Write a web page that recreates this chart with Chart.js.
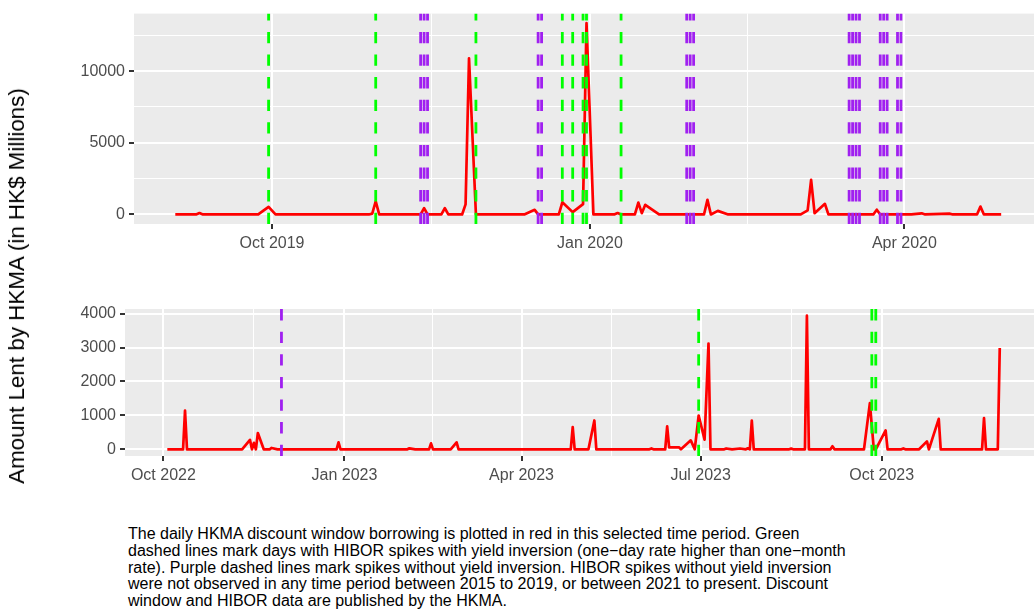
<!DOCTYPE html>
<html>
<head>
<meta charset="utf-8">
<script src="https://cdn.jsdelivr.net/npm/chart.js@4"></script>
<style>
  body { margin: 0; background: #fff; width: 1034px; height: 614px; overflow: hidden; position: relative; font-family: 'Liberation Sans', Arial, sans-serif; }
  canvas { position: absolute; left: 0; }
  #ytitle { position: absolute; left: 17px; top: 286px; transform: translate(-50%, -50%) rotate(-90deg); white-space: nowrap; font-size: 22.4px; color: #000; }
  #caption { position: absolute; left: 128px; top: 526px; font-size: 16px; line-height: 16.8px; color: #000; width: 900px; }
</style>
</head>
<body>
<canvas id="top" width="1034" height="262" style="top:0"></canvas>
<canvas id="bottom" width="1034" height="200" style="top:290px"></canvas>
<div id="ytitle">Amount Lent by HKMA (in HK$ Millions)</div>
<div id="caption">The daily HKMA discount window borrowing is plotted in red in this selected time period. Green<br>dashed lines mark days with HIBOR spikes with yield inversion (one−day rate higher than one−month<br>rate). Purple dashed lines mark spikes without yield inversion. HIBOR spikes without yield inversion<br>were not observed in any time period between 2015 to 2019, or between 2021 to present. Discount<br>window and HIBOR data are published by the HKMA.</div>
<script>
// 2019-20 window
var topDates = ['2019-09-03','2019-09-09','2019-09-10','2019-09-11','2019-09-27','2019-09-30','2019-10-02',
  '2019-10-29','2019-10-30','2019-10-31','2019-11-01','2019-11-13','2019-11-14','2019-11-15','2019-11-19',
  '2019-11-20','2019-11-21','2019-11-25','2019-11-26','2019-11-27','2019-11-29','2019-12-13','2019-12-16',
  '2019-12-17','2019-12-23','2019-12-24','2019-12-27','2019-12-30','2019-12-31','2020-01-02','2020-01-08',
  '2020-01-09','2020-01-10','2020-01-14','2020-01-15','2020-01-16','2020-01-17','2020-01-21','2020-02-03',
  '2020-02-04','2020-02-05','2020-02-07','2020-02-10','2020-03-02','2020-03-04','2020-03-05','2020-03-06',
  '2020-03-09','2020-03-10','2020-03-23','2020-03-24','2020-03-25','2020-04-03','2020-04-06','2020-04-07',
  '2020-04-14','2020-04-15','2020-04-22','2020-04-23','2020-04-24','2020-04-29'];
var topValues = [0,0,100,0,0,530,0,
  0,60,920,0,0,440,0,0,
  440,0,0,700,10900,0,0,320,
  0,0,850,160,720,13350,0,0,
  100,0,0,830,90,670,0,0,
  1020,0,250,0,0,280,2410,90,
  740,0,0,330,0,0,80,0,
  60,0,0,550,0,0];
var topGreen = ['2019-09-30','2019-10-31','2019-11-29','2019-12-24','2019-12-27','2019-12-30','2019-12-31','2020-01-10'];
var topPurple = ['2019-11-13','2019-11-14','2019-11-15','2019-12-17','2019-12-18','2020-01-29','2020-01-30','2020-01-31',
  '2020-03-16','2020-03-17','2020-03-18','2020-03-19','2020-03-25','2020-03-26','2020-03-27','2020-03-30','2020-03-31'];
var topTicks = ['2019-10-01','2020-01-01','2020-04-01'];
var topTickLabels = ['Oct 2019','Jan 2020','Apr 2020'];
var topYTicks = [0, 5000, 10000];

// 2022-23 window
var botDates = ['2022-10-03','2022-10-11','2022-10-12','2022-10-13','2022-11-10','2022-11-14','2022-11-15',
  '2022-11-16','2022-11-17','2022-11-18','2022-11-21','2022-11-24','2022-11-25','2022-11-28','2022-12-28',
  '2022-12-29','2022-12-30','2023-02-02','2023-02-03','2023-02-06','2023-02-13','2023-02-14','2023-02-15',
  '2023-02-24','2023-02-27','2023-02-28','2023-04-26','2023-04-27','2023-04-28','2023-05-05','2023-05-08',
  '2023-05-09','2023-06-05','2023-06-06','2023-06-07','2023-06-13','2023-06-14','2023-06-15','2023-06-16',
  '2023-06-19','2023-06-20','2023-06-21','2023-06-26','2023-06-28','2023-06-30','2023-07-03','2023-07-05',
  '2023-07-06','2023-07-13','2023-07-14','2023-07-17','2023-07-21','2023-07-24','2023-07-25','2023-07-26',
  '2023-07-27','2023-07-28','2023-08-15','2023-08-16','2023-08-17','2023-08-23','2023-08-24','2023-08-25',
  '2023-09-05','2023-09-06','2023-09-07','2023-09-22','2023-09-25','2023-09-27','2023-09-28','2023-10-03',
  '2023-10-04','2023-10-11','2023-10-12','2023-10-13','2023-10-20','2023-10-24','2023-10-25','2023-10-30',
  '2023-10-31','2023-11-21','2023-11-22','2023-11-23','2023-11-29','2023-11-30'];
var botValues = [0,0,1140,0,0,280,0,
  190,0,480,0,0,40,0,0,
  205,0,0,30,0,0,175,0,
  0,205,0,0,657,0,0,850,
  0,0,25,0,0,675,60,60,
  60,60,0,264,0,997,285,3120,
  0,0,25,0,25,0,30,0,
  850,0,0,20,0,0,3940,0,
  0,90,0,0,1360,0,0,557,
  0,0,25,0,0,235,0,900,
  0,0,920,0,0,2990];
var botGreen = ['2023-06-30','2023-09-26','2023-09-28'];
var botPurple = ['2022-11-30'];
var botTicks = ['2022-10-01','2023-01-01','2023-04-01','2023-07-01','2023-10-01'];
var botTickLabels = ['Oct 2022','Jan 2023','Apr 2023','Jul 2023','Oct 2023'];
var botYTicks = [0, 1000, 2000, 3000, 4000];

function day(s) {
  var p = s.split('-');
  return Date.UTC(+p[0], +p[1] - 1, +p[2]) / 86400000;
}

Chart.defaults.font.family = "'Liberation Sans', Arial, sans-serif";
Chart.defaults.font.size = 16;
Chart.defaults.color = '#4D4D4D';

var panelBg = {
  id: 'panelBg',
  beforeDraw: function(chart) {
    var a = chart.chartArea, c = chart.ctx;
    c.save();
    c.fillStyle = '#EBEBEB';
    c.fillRect(a.left, a.top, a.right - a.left, a.bottom - a.top);
    c.restore();
  }
};

function vlines(dates, color, yMin, yMax) {
  return dates.map(function(d) {
    return {
      data: [{x: day(d), y: yMin}, {x: day(d), y: yMax}],
      borderColor: color,
      borderWidth: 2.8,
      borderDash: [11.3, 11.3],
      pointRadius: 0,
      order: 0
    };
  });
}

function makePanel(id, o) {
  var major = o.ticks.map(day);
  var xs = major.slice();
  for (var i = 0; i < major.length - 1; i++) xs.push((major[i] + major[i + 1]) / 2);
  var ys = [];
  for (var j = 0; j < o.yTicks.length; j++) {
    ys.push(o.yTicks[j]);
    if (j < o.yTicks.length - 1) ys.push((o.yTicks[j] + o.yTicks[j + 1]) / 2);
  }
  if (o.yExtraMinor) ys.push(o.yExtraMinor);
  var isMajX = function(v) { return major.indexOf(v) >= 0; };
  var isMajY = function(v) { return o.yTicks.indexOf(v) >= 0; };

  var red = {
    data: o.dates.map(function(d, k) { return {x: day(d), y: o.values[k]}; }),
    borderColor: '#FF0000',
    borderWidth: 2.7,
    borderJoinStyle: 'round',
    pointRadius: 0,
    tension: 0,
    order: 1
  };
  var sets = vlines(o.green, '#00FF00', o.yMin, o.yMax)
    .concat(vlines(o.purple, '#A020F0', o.yMin, o.yMax))
    .concat([red]);

  return new Chart(document.getElementById(id), {
    type: 'line',
    data: { datasets: sets },
    options: {
      responsive: false,
      animation: false,
      layout: { padding: { top: o.padTop, left: 0, right: 0, bottom: 0 } },
      plugins: { legend: { display: false }, tooltip: { enabled: false } },
      scales: {
        x: {
          type: 'linear',
          min: day(o.xMin) + o.xMinFrac,
          max: day(o.xMax) + o.xMaxFrac,
          afterBuildTicks: function(s) { s.ticks = xs.map(function(v) { return {value: v}; }); },
          afterFit: function(s) { s.height = o.xHeight; },
          ticks: {
            autoSkip: false,
            maxRotation: 0,
            padding: 5,
            color: '#4D4D4D',
            callback: function(v) { var k = major.indexOf(v); return k >= 0 ? o.tickLabels[k] : ''; }
          },
          grid: {
            color: '#FFFFFF',
            lineWidth: function(c) { return c.tick && isMajX(c.tick.value) ? 2 : 1; },
            tickLength: 5,
            tickWidth: 2,
            tickColor: function(c) { return c.tick && isMajX(c.tick.value) ? '#333333' : 'rgba(0,0,0,0)'; }
          },
          border: { display: false }
        },
        y: {
          min: o.yMin,
          max: o.yMax,
          afterBuildTicks: function(s) { s.ticks = ys.map(function(v) { return {value: v}; }); },
          afterFit: function(s) { s.width = o.yWidth; },
          ticks: {
            padding: 4,
            color: '#4D4D4D',
            callback: function(v) { return isMajY(v) ? String(v) : ''; }
          },
          grid: {
            color: '#FFFFFF',
            lineWidth: function(c) { return c.tick && isMajY(c.tick.value) ? 2 : 1; },
            tickLength: 5,
            tickWidth: 2,
            tickColor: function(c) { return c.tick && isMajY(c.tick.value) ? '#333333' : 'rgba(0,0,0,0)'; }
          },
          border: { display: false }
        }
      }
    },
    plugins: [panelBg]
  });
}

makePanel('top', {
  dates: topDates, values: topValues, green: topGreen, purple: topPurple,
  ticks: topTicks, tickLabels: topTickLabels, yTicks: topYTicks, yExtraMinor: 12500,
  yMin: -667.5, yMax: 14017.5,
  xMin: '2019-08-22', xMinFrac: 0.05, xMax: '2020-05-08', xMaxFrac: 0.5,
  padTop: 12, yWidth: 134, xHeight: 38
});

makePanel('bottom', {
  dates: botDates, values: botValues, green: botGreen, purple: botPurple,
  ticks: botTicks, tickLabels: botTickLabels, yTicks: botYTicks,
  yMin: -197, yMax: 4137,
  xMin: '2022-09-11', xMinFrac: 0.5, xMax: '2023-12-17', xMaxFrac: 0.4,
  padTop: 19, yWidth: 125, xHeight: 34
});
</script>
</body>
</html>
